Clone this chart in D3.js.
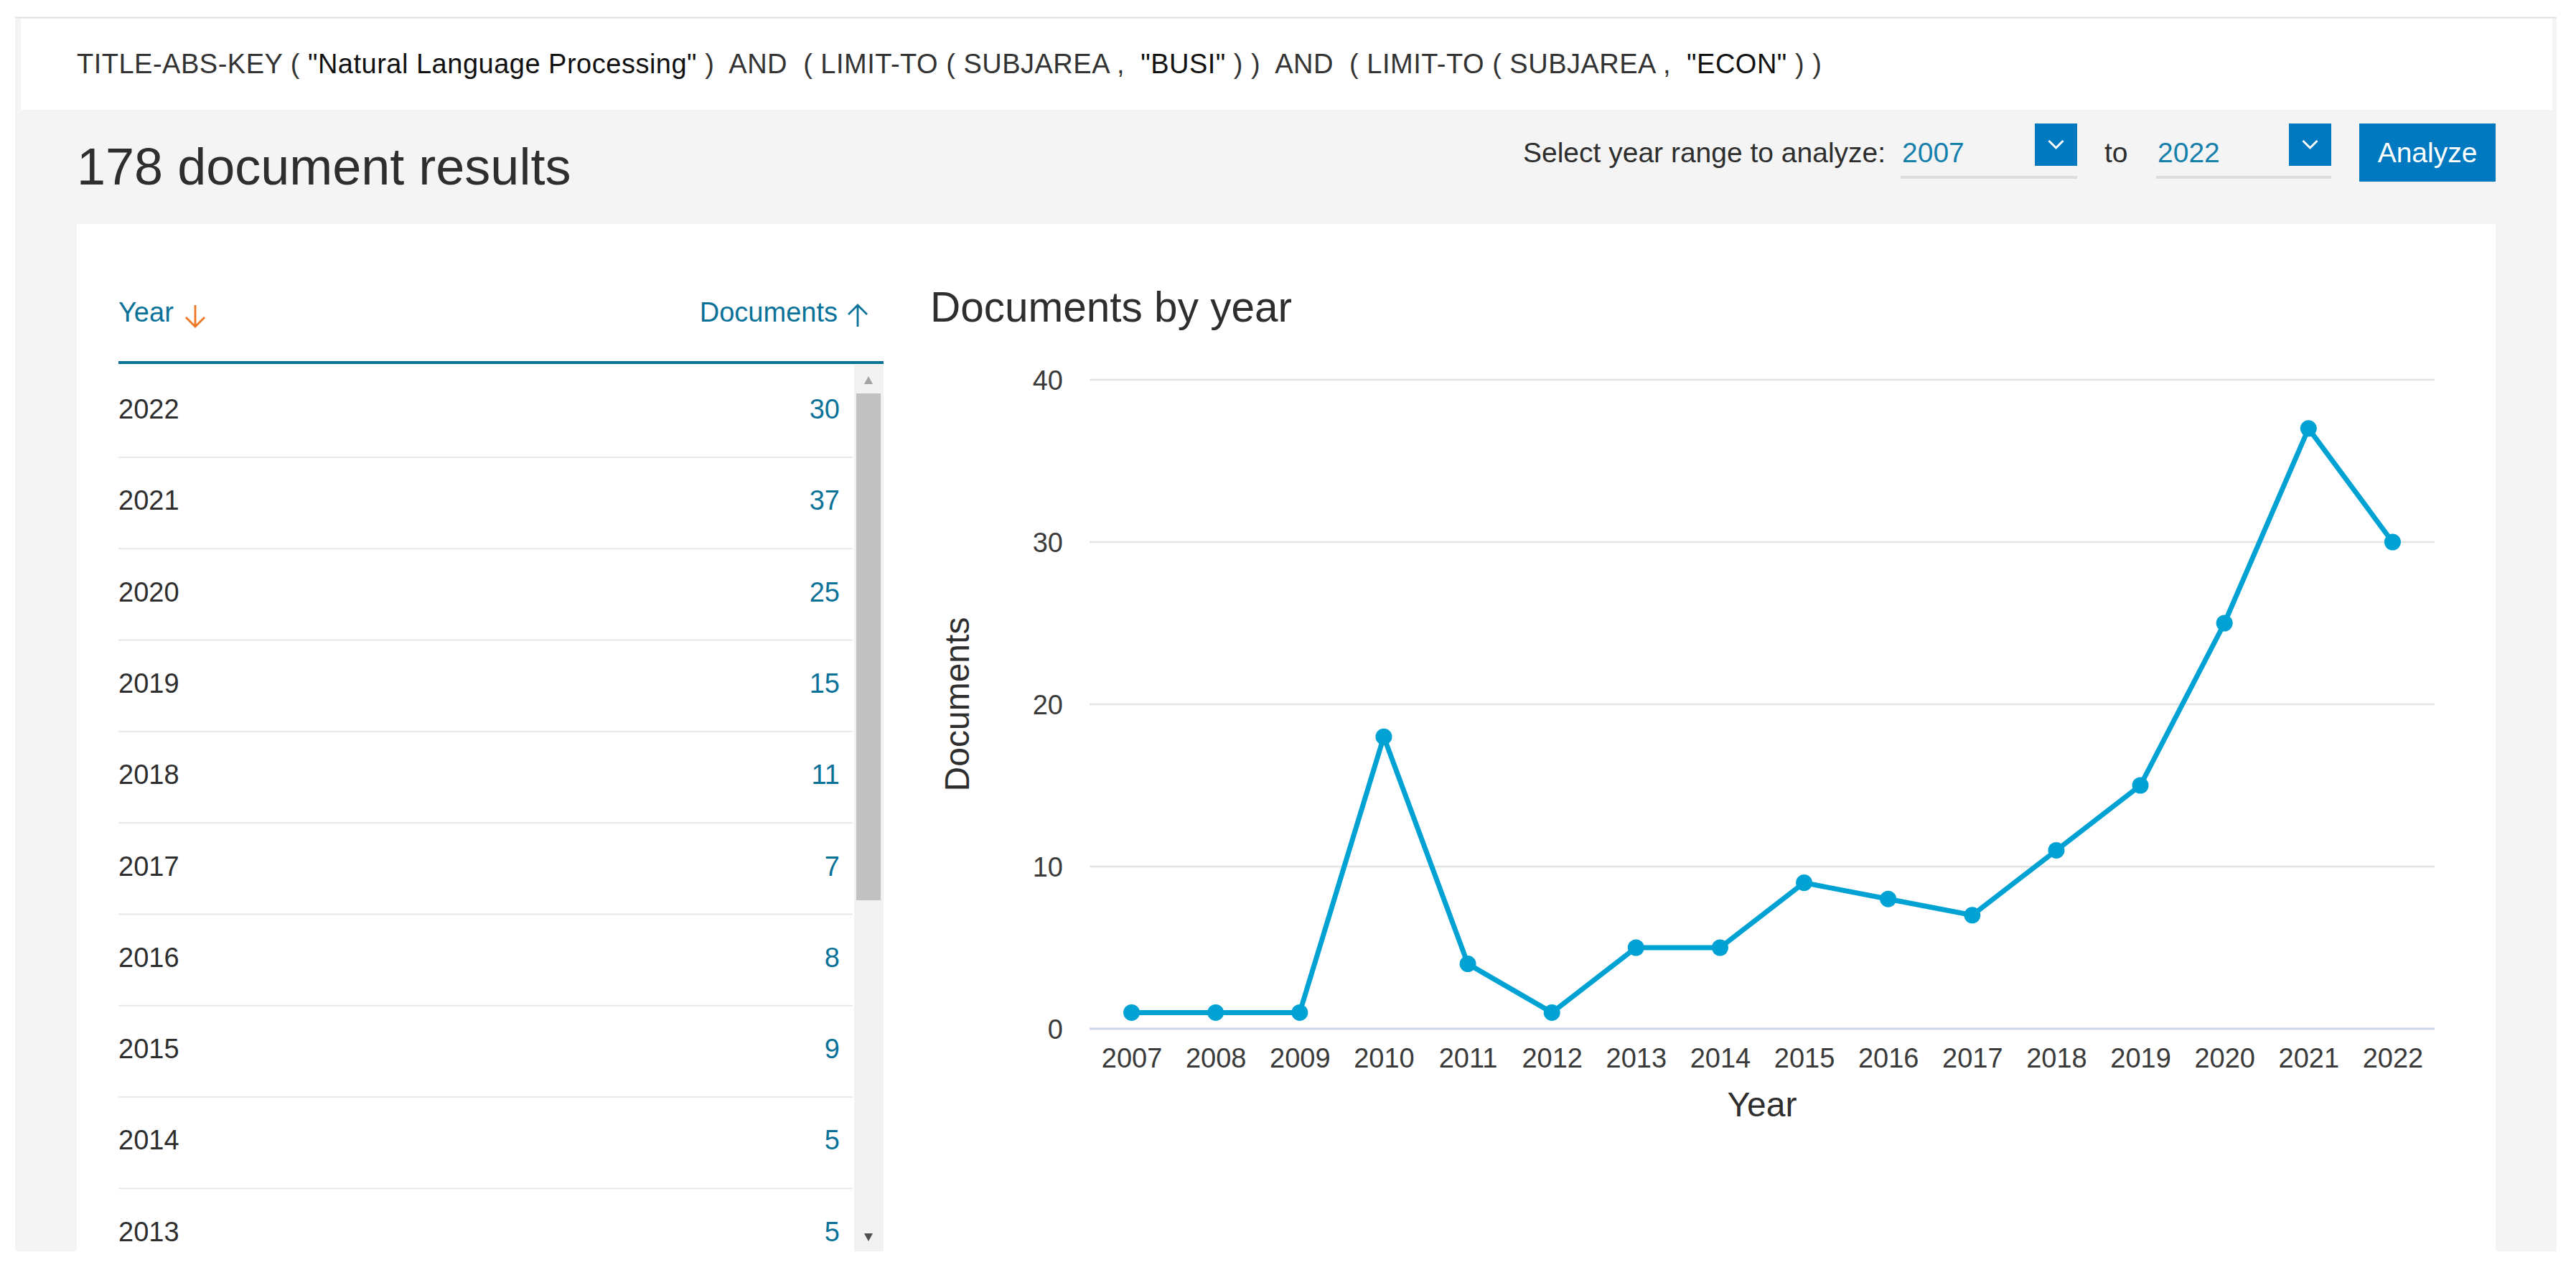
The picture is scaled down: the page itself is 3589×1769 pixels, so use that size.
<!DOCTYPE html>
<html>
<head>
<meta charset="utf-8">
<script src="https://cdn.jsdelivr.net/npm/d3@7"></script>
<style>
  html, body { margin: 0; padding: 0; background: #ffffff; }
  svg { display: block; font-family: "Liberation Sans", Arial, sans-serif; }
  text { white-space: pre; }
</style>
</head>
<body>
<svg id="page" width="3589" height="1769"></svg>
<script>
// ---- Data ----
const years = ["2007","2008","2009","2010","2011","2012","2013","2014","2015","2016","2017","2018","2019","2020","2021","2022"];
const documents = [1, 1, 1, 18, 4, 1, 5, 5, 9, 8, 7, 11, 15, 25, 37, 30];
const yTicks = [0, 10, 20, 30, 40];
const tableYears = ["2022","2021","2020","2019","2018","2017","2016","2015","2014","2013"];
const tableDocs = [30, 37, 25, 15, 11, 7, 8, 9, 5, 5];
const queryParts = [
  ["TITLE-ABS-KEY ( ", "#333333"], ["\"Natural Language Processing\"", "#111111"],
  [" )  AND  ( LIMIT-TO ( SUBJAREA ,  ", "#333333"], ["\"BUSI\"", "#111111"],
  [" ) )  AND  ( LIMIT-TO ( SUBJAREA ,  ", "#333333"], ["\"ECON\"", "#111111"], [" ) )", "#333333"]
];
const resultsTitle = "178 document results";
const chartTitle = "Documents by year";
const rangeFrom = "2007", rangeTo = "2022";

const TEAL = "#0a7299";
const LINE = "#00a2d4";
const BLUE = "#0079c1";
const TXT = "#2e2e2e";

const svg = d3.select("#page");

// ---- Page chrome ----
svg.append("rect").attr("x", 21).attr("y", 24).attr("width", 3541).attr("height", 1719).attr("fill", "#f4f4f4");
svg.append("line").attr("x1", 21).attr("x2", 3562).attr("y1", 24.5).attr("y2", 24.5).attr("stroke", "#e2e2e2").attr("stroke-width", 2);
svg.append("rect").attr("x", 29).attr("y", 26).attr("width", 3527).attr("height", 127).attr("fill", "#ffffff");

const q = svg.append("text").attr("x", 107).attr("y", 102).attr("font-size", 38).attr("letter-spacing", 0.5);
queryParts.forEach(p => q.append("tspan").attr("fill", p[1]).text(p[0]));

svg.append("text").attr("x", 107).attr("y", 257).attr("font-size", 72).attr("fill", TXT).text(resultsTitle);

// Year range selector
svg.append("text").attr("x", 2122).attr("y", 226).attr("font-size", 39).attr("fill", TXT).text("Select year range to analyze:");
function dropdown(x0, x1, label) {
  svg.append("text").attr("x", x0 + 2).attr("y", 226).attr("font-size", 39).attr("fill", "#1680ad").text(label);
  svg.append("rect").attr("x", x0).attr("y", 245).attr("width", x1 - x0).attr("height", 4).attr("fill", "#dcdcdc");
  svg.append("rect").attr("x", x1 - 59).attr("y", 172).attr("width", 59).attr("height", 59).attr("fill", BLUE);
  const cx = x1 - 29.5, cy = 201;
  svg.append("path").attr("d", `M${cx-10},${cy-5} L${cx},${cy+5} L${cx+10},${cy-5}`)
     .attr("fill", "none").attr("stroke", "#fff").attr("stroke-width", 3);
}
dropdown(2648, 2894, rangeFrom);
svg.append("text").attr("x", 2932).attr("y", 226).attr("font-size", 39).attr("fill", TXT).text("to");
dropdown(3004, 3248, rangeTo);
svg.append("rect").attr("x", 3287).attr("y", 172).attr("width", 190).attr("height", 81).attr("fill", BLUE);
svg.append("text").attr("x", 3382).attr("y", 226).attr("font-size", 39).attr("fill", "#fff").attr("text-anchor", "middle").text("Analyze");

// White content panel
svg.append("rect").attr("x", 107).attr("y", 312).attr("width", 3370).attr("height", 1431).attr("fill", "#ffffff");

// ---- Table ----
svg.append("text").attr("x", 165).attr("y", 448).attr("font-size", 38).attr("fill", TEAL).text("Year");
svg.append("path").attr("d", "M272,425 V455 M259,442 L272,455 L285,442").attr("fill", "none").attr("stroke", "#ee7623").attr("stroke-width", 2.8);
svg.append("text").attr("x", 1167).attr("y", 448).attr("font-size", 38).attr("fill", TEAL).attr("text-anchor", "end").text("Documents");
svg.append("path").attr("d", "M1195,455 V425 M1182,438 L1195,425 L1208,438").attr("fill", "none").attr("stroke", TEAL).attr("stroke-width", 2.8);
svg.append("rect").attr("x", 165).attr("y", 503).attr("width", 1066).attr("height", 4).attr("fill", TEAL);

const rowY = d3.scaleLinear().domain([0, 1]).range([583, 710.3]);
const rows = svg.append("g");
tableYears.forEach((yr, i) => {
  rows.append("text").attr("x", 165).attr("y", rowY(i)).attr("font-size", 38).attr("fill", TXT).text(yr);
  rows.append("text").attr("x", 1170).attr("y", rowY(i)).attr("font-size", 38).attr("fill", TEAL).attr("text-anchor", "end").text(tableDocs[i]);
  if (i < tableYears.length - 1)
    rows.append("rect").attr("x", 165).attr("y", rowY(i) + 53).attr("width", 1023).attr("height", 2).attr("fill", "#e8e8e8");
});

// Scrollbar
svg.append("rect").attr("x", 1190).attr("y", 508).attr("width", 41).attr("height", 1235).attr("fill", "#f1f1f1");
svg.append("rect").attr("x", 1193).attr("y", 548).attr("width", 34).attr("height", 706).attr("fill", "#c1c1c1");
svg.append("path").attr("d", "M1204,535 L1210,524 L1216,535 Z").attr("fill", "#a3a3a3");
svg.append("path").attr("d", "M1204,1718 L1210,1729 L1216,1718 Z").attr("fill", "#505050");

// ---- Chart ----
svg.append("text").attr("x", 1296).attr("y", 448).attr("font-size", 58.5).attr("fill", TXT).text(chartTitle);

const x = d3.scalePoint().domain(years).range([1518, 3392]).padding(0.5);
const y = d3.scaleLinear().domain([0, 40]).range([1433, 529]);

const grid = svg.append("g");
grid.selectAll("line").data(yTicks.filter(t => t > 0)).join("line")
  .attr("x1", 1518).attr("x2", 3392).attr("y1", d => y(d)).attr("y2", d => y(d))
  .attr("stroke", "#e3e3e3").attr("stroke-width", 2.3);
svg.append("line").attr("x1", 1518).attr("x2", 3392).attr("y1", y(0)).attr("y2", y(0))
  .attr("stroke", "#ccd6eb").attr("stroke-width", 3);

const yAxis = d3.axisLeft(y).tickValues(yTicks).tickSize(0).tickPadding(0).tickFormat(d3.format("d"));
const gy = svg.append("g").attr("transform", "translate(1481,0)").call(yAxis);
gy.select(".domain").remove();
gy.selectAll("text").attr("font-size", 38).attr("fill", "#3a3a3a").attr("font-family", "Liberation Sans, Arial, sans-serif").attr("dy", "0.35em");

const xAxis = d3.axisBottom(x).tickSize(0).tickPadding(0);
const gx = svg.append("g").attr("transform", "translate(0,1460)").call(xAxis);
gx.select(".domain").remove();
gx.selectAll("text").attr("font-size", 38).attr("fill", "#3a3a3a").attr("font-family", "Liberation Sans, Arial, sans-serif").attr("dy", "0.71em");

svg.append("text").attr("x", 2455).attr("y", 1555).attr("font-size", 48).attr("fill", TXT).attr("text-anchor", "middle").text("Year");
svg.append("text").attr("transform", "translate(1350,981) rotate(-90)").attr("font-size", 48).attr("fill", TXT).attr("text-anchor", "middle").text("Documents");

const data = years.map((yr, i) => ({ yr, v: documents[i] }));
svg.append("path").datum(data)
  .attr("d", d3.line().x(d => x(d.yr)).y(d => y(d.v)))
  .attr("fill", "none").attr("stroke", LINE).attr("stroke-width", 7).attr("stroke-linejoin", "round");
svg.append("g").selectAll("circle").data(data).join("circle")
  .attr("cx", d => x(d.yr)).attr("cy", d => y(d.v)).attr("r", 11.5).attr("fill", LINE);
</script>
</body>
</html>
